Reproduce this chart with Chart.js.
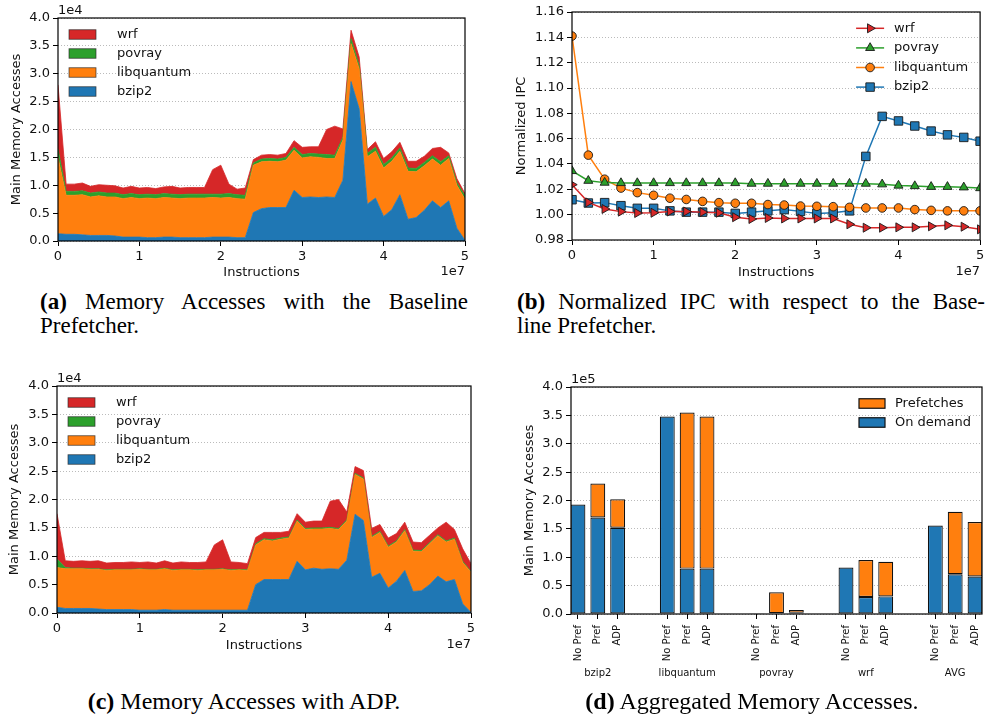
<!DOCTYPE html>
<html>
<head>
<meta charset="utf-8">
<script src="https://cdn.jsdelivr.net/npm/chart.js@4.4.0/dist/chart.umd.min.js"></script>
<style>
  html, body { margin: 0; padding: 0; background: #fff; }
  body { width: 987px; height: 715px; position: relative; overflow: hidden; }
  canvas { position: absolute; }
  .cap { position: absolute; font-family: "Liberation Serif", "DejaVu Serif", serif; font-size: 23px; line-height: 24px; color: #000; }
  .cap div { white-space: nowrap; }
  .cap .just { text-align: justify; text-align-last: justify; white-space: normal; }
  .cap b { font-weight: bold; }
  .cap.big { font-size: 24px; }
</style>
</head>
<body>
<canvas id="chartA" width="495" height="285" style="left:0;top:0"></canvas>
<canvas id="chartB" width="490" height="285" style="left:497px;top:0"></canvas>
<canvas id="chartC" width="495" height="290" style="left:0;top:370px"></canvas>
<canvas id="chartD" width="490" height="345" style="left:497px;top:370px"></canvas>

<div class="cap" style="left:40px;top:290px;width:428px">
  <div class="just"><b>(a)</b> Memory Accesses with the Baseline</div>
  <div>Prefetcher.</div>
</div>
<div class="cap" style="left:517px;top:290px;width:468px">
  <div class="just"><b>(b)</b> Normalized IPC with respect to the Base-</div>
  <div>line Prefetcher.</div>
</div>
<div class="cap big" style="left:0;top:689px;width:488px;text-align:center"><div><b>(c)</b> Memory Accesses with ADP.</div></div>
<div class="cap big" style="left:517px;top:689px;width:470px;text-align:center"><div><b>(d)</b> Aggregated Memory Accesses.</div></div>

<script>
// ---- Memory-access samples, one every 1M instructions ----
const instructions = [
  0, 1e6, 2e6, 3e6, 4e6, 5e6, 6e6, 7e6, 8e6, 9e6,
  10e6, 11e6, 12e6, 13e6, 14e6, 15e6, 16e6, 17e6, 18e6, 19e6,
  20e6, 21e6, 22e6, 23e6, 24e6, 25e6, 26e6, 27e6, 28e6, 29e6,
  30e6, 31e6, 32e6, 33e6, 34e6, 35e6, 36e6, 37e6, 38e6, 39e6,
  40e6, 41e6, 42e6, 43e6, 44e6, 45e6, 46e6, 47e6, 48e6, 49e6, 50e6
];

// Baseline prefetcher: main memory accesses per benchmark
const baseBzip2 = [1300,1200,1200,1100,1000,1000,1000,900,700,700,700,600,600,700,700,600,600,600,600,700,700,700,600,600,
  5100,5800,6000,6000,6000,9100,7800,7900,7800,7900,7800,10900,28600,23700,6600,7700,4400,5600,8300,3900,4200,5500,7200,6000,7200,2300,100];
const baseLibquantum = [13700,7000,7000,7200,6900,7100,6900,7000,6900,7100,6900,7100,7000,7100,7000,7000,7100,7100,7100,7100,7000,7100,7000,6900,
  8500,8400,8300,8200,8500,7200,7100,7200,7200,6900,7000,7200,6800,7200,8500,8400,8700,8700,7800,8600,8200,8000,7500,7600,7600,7700,7400];
const basePovray = [1500,700,700,700,700,700,700,700,700,700,700,700,700,700,700,700,700,700,700,600,700,700,700,700,
  400,500,500,500,500,500,600,600,600,700,600,500,900,600,600,700,600,600,600,600,600,600,600,600,500,500,600];
const baseWrf = [11500,1300,1300,1400,1200,1300,1400,1300,1200,1300,1200,1200,1100,1200,1400,1200,1200,1200,1200,4400,5200,1700,1000,1300,
  600,700,700,700,700,1200,1300,1200,1300,4500,5200,1500,1500,1500,700,1000,1100,1100,1000,1200,1300,1100,1300,2600,500,700,400];

// ADP: main memory accesses per benchmark
const adpBzip2 = [1000,800,800,800,800,700,600,600,600,600,500,500,500,600,500,500,500,500,500,500,500,500,500,500,
  5000,5900,5900,5900,5900,9100,7600,7900,7700,7800,7700,9300,17400,16300,6300,7000,4400,5600,7500,3800,3900,5000,6500,5500,5900,1600,100];
const adpLibquantum = [7000,7000,7000,7000,6900,7000,6900,7000,7000,7000,7200,7100,7100,7200,7000,7100,7100,7000,7100,7100,7200,7000,7100,7000,
  7000,7000,6800,7100,7300,7100,7100,6900,7100,7100,7000,6900,7000,7300,7000,7200,7200,6900,7000,7100,6900,7200,7100,7000,7100,7300,7100];
const adpPovray = [1500,200,100,100,100,100,100,100,100,100,100,100,100,100,100,100,100,100,100,100,100,100,100,100,
  200,200,200,200,200,200,200,200,200,200,200,200,200,200,200,200,200,200,200,200,200,200,200,200,200,200,100];
const adpWrf = [8000,1200,1200,1300,1300,1400,1200,1200,1200,1300,1100,1300,1100,1300,1200,1300,1200,1300,1300,4300,5100,1400,1200,1100,
  1100,1100,1300,1000,1000,1100,1100,1200,1200,4600,5100,1400,1200,1300,1400,1200,1400,1300,1300,1400,1400,1300,1200,3300,1500,2200,1400];

// ---- Normalized IPC, one sample every 2M instructions ----
const ipcInstructions = [0, 2e6, 4e6, 6e6, 8e6, 10e6, 12e6, 14e6, 16e6, 18e6, 20e6, 22e6, 24e6,
  26e6, 28e6, 30e6, 32e6, 34e6, 36e6, 38e6, 40e6, 42e6, 44e6, 46e6, 48e6, 50e6];
const ipcWrf = [1.0237,1.0097,1.0045,1.0024,1.0013,1.0015,1.0025,1.0025,1.002,1.0015,0.998,0.9966,0.9974,
  0.997,0.997,0.997,0.997,0.9924,0.9897,0.9897,0.990,0.990,0.9908,0.9916,0.9905,0.9884];
const ipcPovray = [1.0345,1.0268,1.0253,1.025,1.025,1.025,1.025,1.025,1.025,1.025,1.025,1.0245,1.0245,
  1.0245,1.0245,1.0245,1.0245,1.0245,1.0245,1.024,1.023,1.0226,1.022,1.022,1.0216,1.021];
const ipcLibquantum = [1.141,1.047,1.028,1.021,1.0174,1.0153,1.013,1.012,1.0105,1.0095,1.009,1.009,1.008,
  1.0076,1.0068,1.0066,1.0063,1.0058,1.0053,1.0053,1.0053,1.004,1.0034,1.003,1.003,1.003];
const ipcBzip2 = [1.0118,1.0092,1.0095,1.0071,1.005,1.005,1.003,1.002,1.002,1.002,1.001,1.002,1.003,
  1.004,1.0026,1.001,1.0016,1.003,1.046,1.0776,1.074,1.070,1.066,1.063,1.061,1.058];

// ---- Aggregated accesses: benchmark x configuration ----
const benchmarks = ['bzip2', 'libquantum', 'povray', 'wrf', 'AVG'];
const configs = ['No Pref', 'Pref', 'ADP'];
const onDemand   = [193000,170000,152000, 348000,80000,80000, 1200,1200,2000, 82000,30000,31000, 156000,70000,66000];
const prefetches = [0,60000,50000, 0,275000,268000, 0,37000,5000, 0,65000,61000, 0,110000,96000];

// Tick labels
const instrTicks = ['0', '1', '2', '3', '4', '5'];

// ---------------------------------------------------------------
const COL = { blue: '#1f77b4', orange: '#ff7f0e', green: '#2ca02c', red: '#d62728' };
const FONT = '"DejaVu Sans", sans-serif';

Chart.defaults.font.family = FONT;
Chart.defaults.font.size = 13;
Chart.defaults.color = '#111';
Chart.defaults.animation = false;
Chart.defaults.plugins.legend.display = false;
Chart.defaults.plugins.tooltip.enabled = false;

const fixWidth = w => s => { s.width = w; s.paddingTop = 0; s.paddingBottom = 0; };
const fixHeight = h => s => { s.height = h; s.paddingLeft = 0; s.paddingRight = 0; };
const xy = (xs, ys) => xs.map((x, i) => ({ x, y: ys[i] }));

// in-axes legend drawn from the datasets themselves
function drawLegend(chart, L) {
  const ctx = chart.ctx, a = chart.chartArea, sets = chart.data.datasets;
  const idx = sets.map((d, i) => i);
  if (L.reverse) idx.reverse();
  const x0 = L.anchor === 'right' ? a.right + L.dx : a.left + L.dx;
  idx.forEach((k, row) => {
    const ds = sets[k];
    const y = a.top + L.dy + row * L.gap;
    if (L.kind === 'patch') {
      ctx.fillStyle = ds.backgroundColor;
      ctx.fillRect(x0, y - L.h / 2, L.w, L.h);
      ctx.strokeStyle = L.edge; ctx.lineWidth = L.edgeWidth;
      ctx.strokeRect(x0, y - L.h / 2, L.w, L.h);
    } else {
      ctx.strokeStyle = ds.borderColor; ctx.lineWidth = ds.borderWidth;
      ctx.beginPath(); ctx.moveTo(x0, y); ctx.lineTo(x0 + L.w, y); ctx.stroke();
      ctx.fillStyle = ds.pointBackgroundColor;
      ctx.strokeStyle = ds.pointBorderColor;
      ctx.lineWidth = ds.pointBorderWidth;
      Chart.helpers.drawPoint(ctx, { pointStyle: ds.pointStyle, rotation: ds.pointRotation || 0,
        radius: ds.pointRadius, borderWidth: ds.pointBorderWidth }, x0 + L.w / 2, y);
    }
    ctx.fillStyle = '#111';
    ctx.font = '13px ' + FONT;
    ctx.textAlign = 'left'; ctx.textBaseline = 'middle';
    ctx.fillText(ds.label, x0 + L.textDx, y);
  });
}

// axes box, offset (exponent) labels and legend
const decorations = {
  id: 'decorations',
  afterDraw(chart, args, o) {
    const ctx = chart.ctx, a = chart.chartArea;
    ctx.save();
    ctx.font = '13px ' + FONT;
    ctx.fillStyle = '#111';
    if (o.yExp) { ctx.textAlign = 'left'; ctx.textBaseline = 'alphabetic'; ctx.fillText(o.yExp, a.left, a.top - 4); }
    if (o.xExp) { ctx.textAlign = 'right'; ctx.textBaseline = 'middle'; ctx.fillText(o.xExp, a.right, o.xExpY); }
    if (o.legend) drawLegend(chart, o.legend);
    ctx.strokeStyle = '#000'; ctx.lineWidth = 1.2;
    ctx.strokeRect(a.left, a.top, a.right - a.left, a.bottom - a.top);
    ctx.restore();
  }
};

const yGrid = { color: '#b3b3b3', lineWidth: 0.9, drawTicks: true, tickLength: 5, tickColor: '#000', tickWidth: 1 };
const xGrid = { drawOnChartArea: false, drawTicks: true, tickLength: 5, tickColor: '#000', tickWidth: 1, offset: false };
const dotted = { display: false, dash: [1, 2] };

// stacked area chart of accesses over time
function areaChart(id, series, L) {
  const names = ['bzip2', 'libquantum', 'povray', 'wrf'];
  const colors = [COL.blue, COL.orange, COL.green, COL.red];
  return new Chart(document.getElementById(id), {
    type: 'line',
    data: {
      datasets: series.map((s, i) => ({
        label: names[i], data: xy(instructions, s),
        backgroundColor: colors[i], borderColor: colors[i], borderWidth: 0.8,
        fill: i === 0 ? 'origin' : '-1', pointRadius: 0, tension: 0
      }))
    },
    options: {
      responsive: false, devicePixelRatio: 1,
      layout: { padding: { left: 0, top: L.top, right: L.right, bottom: 0 } },
      scales: {
        x: {
          type: 'linear', min: 0, max: 5e7, afterFit: fixHeight(L.xh),
          ticks: { stepSize: 1e7, autoSkip: false, maxRotation: 0, padding: 3,
                   callback: (v, i) => instrTicks[i] },
          grid: xGrid, border: { display: false },
          title: { display: true, text: 'Instructions', font: { size: 13 }, padding: { top: 0, bottom: L.xtp } }
        },
        y: {
          stacked: true, min: 0, max: 40000, afterFit: fixWidth(L.yw),
          ticks: { stepSize: 5000, padding: 3, callback: v => (v / 1e4).toFixed(1) },
          grid: yGrid, border: dotted,
          title: { display: true, text: 'Main Memory Accesses', font: { size: 13 }, padding: { top: L.ytp, bottom: 0 } }
        }
      },
      plugins: {
        decorations: { yExp: '1e4', xExp: '1e7', xExpY: L.expY,
          legend: { kind: 'patch', anchor: 'left', dx: 11, dy: 16.5, gap: 19, w: 27, h: 9.5, textDx: 48,
                    edge: 'rgba(40,40,40,0.8)', edgeWidth: 0.8, reverse: true } }
      }
    },
    plugins: [decorations]
  });
}

areaChart('chartA', [baseBzip2, baseLibquantum, basePovray, baseWrf],
  { top: 18, right: 30, xh: 44, yw: 58, xtp: 5, ytp: 9, expY: 272 });
areaChart('chartC', [adpBzip2, adpLibquantum, adpPovray, adpWrf],
  { top: 16, right: 24, xh: 47, yw: 57, xtp: 7, ytp: 7, expY: 275 });

// normalized IPC lines
const ipcSeries = [
  { label: 'wrf', data: ipcWrf, color: COL.red, style: 'triangle', rot: 90, r: 5.2 },
  { label: 'povray', data: ipcPovray, color: COL.green, style: 'triangle', rot: 0, r: 5.2 },
  { label: 'libquantum', data: ipcLibquantum, color: COL.orange, style: 'circle', rot: 0, r: 4.3 },
  { label: 'bzip2', data: ipcBzip2, color: COL.blue, style: 'rect', rot: 0, r: 6 }
];
new Chart(document.getElementById('chartB'), {
  type: 'line',
  data: {
    datasets: ipcSeries.map(s => ({
      label: s.label, data: xy(ipcInstructions, s.data),
      borderColor: s.color, backgroundColor: s.color, borderWidth: 1.5,
      pointStyle: s.style, pointRotation: s.rot, pointRadius: s.r,
      pointBackgroundColor: s.color, pointBorderColor: '#1a1a1a', pointBorderWidth: 0.9,
      fill: false, tension: 0
    }))
  },
  options: {
    responsive: false, devicePixelRatio: 1,
    layout: { padding: { left: 0, top: 12, right: 4, bottom: 0 } },
    scales: {
      x: {
        type: 'linear', min: 0, max: 5e7, afterFit: fixHeight(45),
        ticks: { stepSize: 1e7, autoSkip: false, maxRotation: 0, padding: 3, callback: (v, i) => instrTicks[i] },
        grid: xGrid, border: { display: false },
        title: { display: true, text: 'Instructions', font: { size: 13 }, padding: { top: 0, bottom: 5 } }
      },
      y: {
        min: 0.98, max: 1.16, afterFit: fixWidth(75),
        ticks: { stepSize: 0.02, padding: 3, callback: v => v.toFixed(2) },
        grid: yGrid, border: dotted,
        title: { display: true, text: 'Normalized IPC', font: { size: 13 }, padding: { top: 17, bottom: 0 } }
      }
    },
    plugins: {
      decorations: { xExp: '1e7', xExpY: 272,
        legend: { kind: 'line', anchor: 'right', dx: -124, dy: 16.3, gap: 19.6, w: 28, textDx: 38 } }
    }
  },
  plugins: [decorations]
});

// aggregated accesses: stacked bars, three configurations per benchmark
const slot = (g, c) => g * (configs.length + 1.5) + c;
const barPos = [], barLabels = [];
benchmarks.forEach((b, g) => configs.forEach((c, k) => { barPos.push(slot(g, k)); barLabels.push(c); }));
const groupPos = benchmarks.map((b, g) => slot(g, 1));
const xMin = slot(0, 0) - 0.35, xMax = slot(benchmarks.length - 1, configs.length - 1) + 0.35;

new Chart(document.getElementById('chartD'), {
  type: 'bar',
  data: {
    datasets: [
      { label: 'On demand', data: xy(barPos, onDemand), backgroundColor: COL.blue },
      { label: 'Prefetches', data: xy(barPos, prefetches), backgroundColor: COL.orange }
    ].map(d => Object.assign(d, { borderColor: '#111', borderWidth: 1.2, borderSkipped: false,
                                  barPercentage: 0.75, categoryPercentage: 1 }))
  },
  options: {
    responsive: false, devicePixelRatio: 1,
    layout: { padding: { left: 0, top: 17, right: 5, bottom: 0 } },
    scales: {
      x: {
        type: 'linear', min: xMin, max: xMax, offset: false, stacked: true, weight: 0,
        afterBuildTicks: s => { s.ticks = barPos.map(v => ({ value: v })); },
        afterFit: fixHeight(53),
        ticks: { autoSkip: false, minRotation: 90, maxRotation: 90, padding: 6, font: { size: 10 },
                 callback: (v, i) => barLabels[i] },
        grid: xGrid, border: { display: false }
      },
      x2: {
        type: 'linear', axis: 'x', position: 'bottom', min: xMin, max: xMax, offset: false, weight: 1,
        afterBuildTicks: s => { s.ticks = groupPos.map(v => ({ value: v })); },
        afterFit: fixHeight(48),
        ticks: { autoSkip: false, minRotation: 0, maxRotation: 0, padding: 0, font: { size: 10 },
                 callback: (v, i) => benchmarks[i] },
        grid: { display: false, drawTicks: false, tickLength: 0 }, border: { display: false }
      },
      y: {
        stacked: true, min: 0, max: 400000, afterFit: fixWidth(74),
        ticks: { stepSize: 50000, padding: 3, callback: v => (v / 1e5).toFixed(1) },
        grid: yGrid, border: dotted,
        title: { display: true, text: 'Main Memory Accesses', font: { size: 13 }, padding: { top: 25, bottom: 0 } }
      }
    },
    plugins: {
      decorations: { yExp: '1e5',
        legend: { kind: 'patch', anchor: 'right', dx: -123, dy: 16.5, gap: 19, w: 26, h: 9.5, textDx: 36,
                  edge: '#111', edgeWidth: 1.2, reverse: true } }
    }
  },
  plugins: [decorations]
});
</script>
</body>
</html>
